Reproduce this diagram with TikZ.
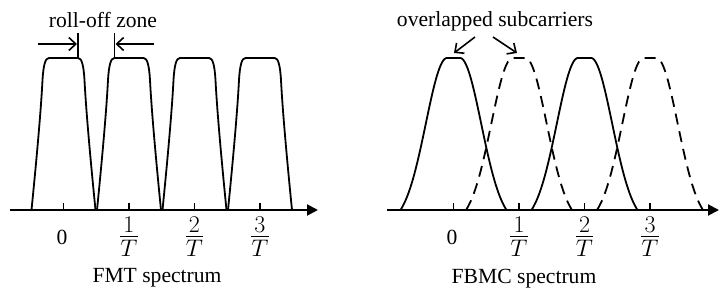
\RequirePackage{fix-cm}
\documentclass[tikz,border=0pt]{standalone}
\usepackage{fontspec}
\setmainfont{Liberation Serif}
\usetikzlibrary{arrows.meta}
\newcommand{\ovT}[1]{$\frac{\textstyle #1\rule[-2.5pt]{0pt}{2.5pt}}{\textstyle T\rule{0pt}{19.5pt}}$}
\begin{document}
\begin{tikzpicture}[x=1pt,y=-1pt,
  curve/.style={line width=1.8pt,line join=round},
  dashcurve/.style={curve,dash pattern=on 11pt off 7pt},
  axisline/.style={line width=2pt,-{Triangle[length=11pt,width=11pt]}},
  tickline/.style={line width=1.8pt},
  pointer/.style={line width=1.6pt,-{Straight Barb[length=7pt,width=13pt]}},
  lbl/.style={inner sep=0pt,font=\fontsize{21.6}{24}\selectfont},
  fraclbl/.style={inner sep=0pt,font=\fontsize{24}{28}\selectfont}]
\useasboundingbox (0,0) rectangle (720,300);
% ---------------- FMT ----------------
\coordinate (axL0) at (10,210);
\coordinate (axL1) at (318,210);
\draw[axisline] (axL0) -- (axL1);
\foreach \c in {63.5,129,194.5,260}{
  \draw[tickline] ({\c},210) -- ({\c},203);
  \draw[curve] ({\c-32},210) .. controls ({\c-27},160) and ({\c-22.5},110) .. ({\c-21},80)
     .. controls ({\c-20},64) and ({\c-18},58) .. ({\c-14.5},58) -- ({\c+14.5},58)
     .. controls ({\c+18},58) and ({\c+20},64) .. ({\c+21},80)
     .. controls ({\c+22.5},110) and ({\c+27},160) .. ({\c+32},210);
}
\node[lbl] (l0) at (62,237) {0};
\node[fraclbl] (l1) at (129,237) {\ovT{1}};
\node[fraclbl] (l2) at (194.5,237) {\ovT{2}};
\node[fraclbl] (l3) at (260,237) {\ovT{3}};
\node[lbl,anchor=base] (fmt) at (157,282) {FMT spectrum};
\node[lbl,anchor=base] (roll) at (103,27) {roll-off zone};
\coordinate (vA0) at (78,33); \coordinate (vA1) at (78,58);
\coordinate (vB0) at (114.5,33); \coordinate (vB1) at (114.5,58);
\draw[tickline] (vA0) -- (vA1);
\draw[tickline] (vB0) -- (vB1);
\coordinate (aA0) at (38,44); \coordinate (aA1) at (77,44);
\coordinate (aB0) at (154,44); \coordinate (aB1) at (115.5,44);
\draw[pointer] (aA0) -- (aA1);
\draw[pointer] (aB0) -- (aB1);
% ---------------- FBMC ----------------
\coordinate (axR0) at (387,210);
\coordinate (axR1) at (719,210);
\draw[axisline] (axR0) -- (axR1);
\foreach \c in {453.5,519,584.5,650}{
  \draw[tickline] ({\c},210) -- ({\c},203);
}
\foreach \c in {453.5,584.5}{
  \draw[curve] plot[domain=-53:53,samples=107,smooth]
    ({\c+\x},{210-152*(exp(-((max(abs(\x)-6.5,0)/30)^2))-0.0905)/0.9095});
}
\foreach \c in {519,650}{
  \draw[dashcurve] plot[domain=-53:53,samples=107,smooth]
    ({\c+\x},{210-152*(exp(-((max(abs(\x)-6.5,0)/30)^2))-0.0905)/0.9095});
}
\node[lbl] (r0) at (452,237) {0};
\node[fraclbl] (r1) at (519,237) {\ovT{1}};
\node[fraclbl] (r2) at (584.5,237) {\ovT{2}};
\node[fraclbl] (r3) at (650,237) {\ovT{3}};
\node[lbl,anchor=base] (fbmc) at (524,283) {FBMC spectrum};
\node[lbl,anchor=base] (over) at (495,26) {overlapped subcarriers};
\coordinate (oA0) at (475,37); \coordinate (oA1) at (454,53);
\coordinate (oB0) at (493,37); \coordinate (oB1) at (517,53);
\draw[pointer] (oA0) -- (oA1);
\draw[pointer] (oB0) -- (oB1);
\end{tikzpicture}
\end{document}
